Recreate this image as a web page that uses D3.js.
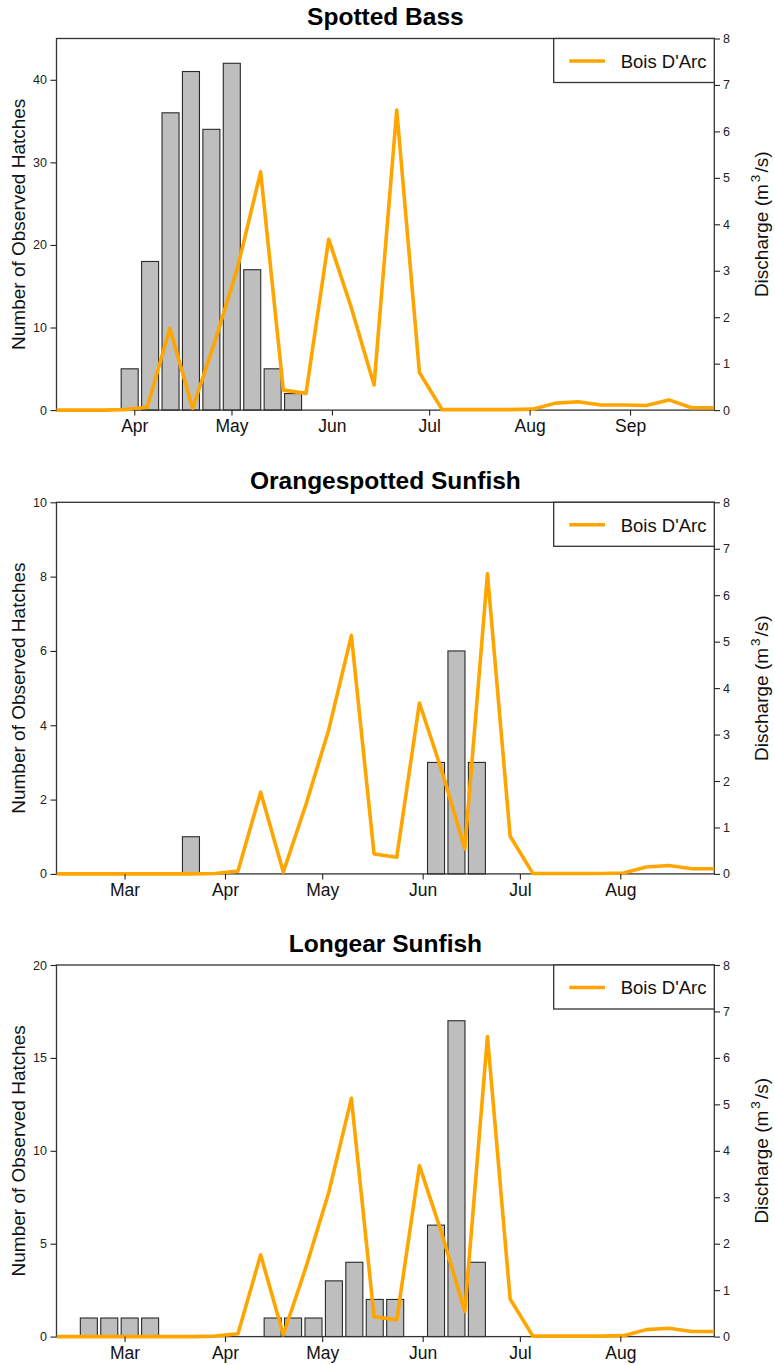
<!DOCTYPE html>
<html>
<head>
<meta charset="utf-8">
<script src="https://cdn.jsdelivr.net/npm/d3@7/dist/d3.min.js"></script>
<style>
  html, body { margin: 0; padding: 0; background: #fff; }
  svg { display: block; font-family: "Liberation Sans", Arial, sans-serif; }
</style>
</head>
<body>
<svg id="chart" width="775" height="1365"></svg>
<script>
// ---------------- DATA ----------------
// Weekly discharge at Bois D'Arc (m^3/s)
const dischargeDates = [
  "2019-02-08","2019-02-15","2019-02-22","2019-03-01","2019-03-08","2019-03-15",
  "2019-03-22","2019-03-29","2019-04-05","2019-04-12","2019-04-19","2019-04-26",
  "2019-05-03","2019-05-10","2019-05-17","2019-05-24","2019-05-31","2019-06-07",
  "2019-06-14","2019-06-21","2019-06-28","2019-07-05","2019-07-12","2019-07-19",
  "2019-07-26","2019-08-02","2019-08-09","2019-08-16","2019-08-23","2019-08-30",
  "2019-09-06","2019-09-13","2019-09-20","2019-09-27"
];
const dischargeValues = [
  0, 0, 0, 0, 0, 0,
  0, 0.01, 0.06, 1.76, 0.04, 1.5,
  3.1, 5.13, 0.43, 0.36, 3.68, 2.2,
  0.54, 6.46, 0.81, 0.01, 0.01, 0.01,
  0.01, 0.02, 0.15, 0.18, 0.11, 0.11,
  0.10, 0.22, 0.05, 0.05
];

// Bar categories (hatch weeks, barplot positions 1..32)
const hatchWeeks = d3.range(1, 33);
const spottedBassHatches = [0,0,0,5,18,36,41,34,42,17,5,2,0,0,0,0,0,0,0,0,0,0,0,0,0,0,0,0,0,0,0,0];
const orangespottedHatches = [0,0,0,0,0,0,1,0,0,0,0,0,0,0,0,0,0,0,3,6,3,0,0,0,0,0,0,0,0,0,0,0];
const longearHatches = [0,1,1,1,1,0,0,0,0,0,1,1,1,3,4,2,2,0,6,17,4,0,0,0,0,0,0,0,0,0,0,0];

const panelTitles = ["Spotted Bass", "Orangespotted Sunfish", "Longear Sunfish"];
const panelDateRanges = [["2019-03-08","2019-09-27"], ["2019-02-08","2019-08-30"], ["2019-02-08","2019-08-30"]];
const panelYMax = [45, 10, 20];
const panelYTicks = [[0,10,20,30,40], [0,2,4,6,8,10], [0,5,10,15,20]];
const dischargeTicks = [0,1,2,3,4,5,6,7,8];
const legendLabel = "Bois D'Arc";

// ---------------- LAYOUT ----------------
const svg = d3.select("#chart");
const L = 56.5, R = 714.3;
const panelTops = [38.5, 502.3, 965];
const panelH = 371.6;
const parse = d3.timeParse("%Y-%m-%d");
const discharge = dischargeDates.map((d, i) => ({date: parse(d), v: dischargeValues[i]}));
const hatchSets = [spottedBassHatches, orangespottedHatches, longearHatches];
const ORANGE = "#FFA500";
const AX = "#222";

const barX = d3.scaleLinear().domain([0, 38.65]).range([L, R]);

panelTitles.forEach((title, p) => {
  const top = panelTops[p], bottom = top + panelH;
  const g = svg.append("g");
  const clipId = "clip" + p;
  svg.append("clipPath").attr("id", clipId)
    .append("rect").attr("x", L).attr("y", top - 5).attr("width", R - L).attr("height", panelH + 10);

  const x = d3.scaleTime()
    .domain(panelDateRanges[p].map(parse))
    .range([L, R]);
  const y = d3.scaleLinear().domain([0, panelYMax[p]]).range([bottom, top]);
  const y2 = d3.scaleLinear().domain([0, 8]).range([bottom, top]);

  // bars
  const bars = hatchWeeks.map((w, i) => ({w, v: hatchSets[p][i]})).filter(d => d.v > 0);
  g.selectAll("rect.bar").data(bars).enter().append("rect")
    .attr("class", "bar")
    .attr("x", d => barX(1.2 * d.w - 1))
    .attr("width", d => barX(1.2 * d.w) - barX(1.2 * d.w - 1))
    .attr("y", d => y(d.v))
    .attr("height", d => bottom - y(d.v))
    .attr("fill", "#BEBEBE")
    .attr("stroke", "#2a2a2a")
    .attr("stroke-width", 1.1);

  // plot box
  g.append("rect")
    .attr("x", L).attr("y", top).attr("width", R - L).attr("height", panelH)
    .attr("fill", "none").attr("stroke", "#333").attr("stroke-width", 1.3);

  // discharge line
  const line = d3.line().x(d => x(d.date)).y(d => y2(d.v));
  g.append("path")
    .datum(discharge)
    .attr("clip-path", `url(#${clipId})`)
    .attr("d", line)
    .attr("fill", "none")
    .attr("stroke", ORANGE)
    .attr("stroke-width", 3.6)
    .attr("stroke-linejoin", "round")
    .attr("stroke-linecap", "butt");

  // left axis
  const ya = g.append("g").attr("transform", `translate(${L},0)`)
    .call(d3.axisLeft(y).tickValues(panelYTicks[p]).tickSize(6).tickPadding(3.5).tickSizeOuter(0));
  ya.select(".domain").remove();
  ya.selectAll("line").attr("stroke", AX).attr("stroke-width", 1.1);
  ya.selectAll("text").attr("font-size", 12.5).attr("fill", "#222");

  // right axis
  const yb = g.append("g").attr("transform", `translate(${R},0)`)
    .call(d3.axisRight(y2).tickValues(dischargeTicks).tickSize(5.7).tickPadding(3).tickSizeOuter(0));
  yb.select(".domain").remove();
  yb.selectAll("line").attr("stroke", AX).attr("stroke-width", 1.1);
  yb.selectAll("text").attr("font-size", 12.5).attr("fill", "#222");

  // bottom axis
  const xa = g.append("g").attr("transform", `translate(0,${bottom})`)
    .call(d3.axisBottom(x).ticks(d3.timeMonth.every(1)).tickFormat(d3.timeFormat("%b"))
      .tickSize(5.5).tickPadding(4).tickSizeOuter(0));
  xa.select(".domain").remove();
  xa.selectAll("line").attr("stroke", AX).attr("stroke-width", 1.1);
  xa.selectAll("text").attr("font-size", 17.5).attr("fill", "#111");

  // title
  g.append("text")
    .attr("x", (L + R) / 2).attr("y", top - 13.5)
    .attr("text-anchor", "middle")
    .attr("font-weight", "bold").attr("font-size", 24.5)
    .text(title);

  // left label
  g.append("text")
    .attr("transform", `translate(25,${(top + bottom) / 2}) rotate(-90)`)
    .attr("text-anchor", "middle").attr("font-size", 19).attr("fill", "#111")
    .text("Number of Observed Hatches");

  // right label
  const rl = g.append("text")
    .attr("transform", `translate(768,${(top + bottom) / 2}) rotate(-90)`)
    .attr("text-anchor", "middle").attr("font-size", 19).attr("fill", "#111");
  rl.append("tspan").text("Discharge (m");
  rl.append("tspan").attr("font-size", 13.5).attr("dy", -8).attr("dx", 2).text("3");
  rl.append("tspan").attr("dy", 8).attr("dx", 2).text("/s)");

  // legend
  const lg = g.append("g");
  lg.append("rect").attr("x", 553.7).attr("y", top).attr("width", R - 553.7).attr("height", 44)
    .attr("fill", "#fff").attr("stroke", "#333").attr("stroke-width", 1.3);
  lg.append("line").attr("x1", 569.3).attr("x2", 605).attr("y1", top + 22.5).attr("y2", top + 22.5)
    .attr("stroke", ORANGE).attr("stroke-width", 3.6);
  lg.append("text").attr("x", 620.7).attr("y", top + 29.2).attr("font-size", 18.5).attr("fill", "#111")
    .text(legendLabel);
});
</script>
</body>
</html>
